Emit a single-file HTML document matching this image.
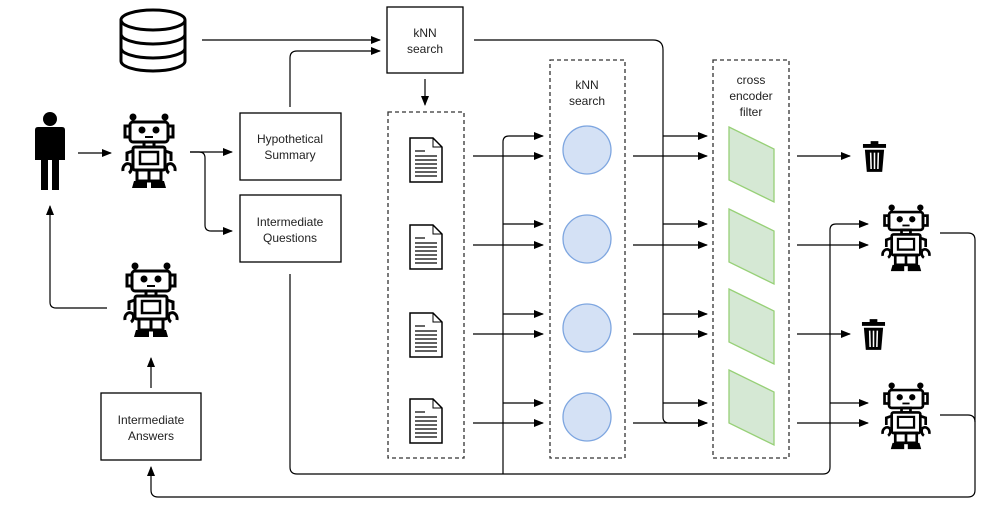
<!DOCTYPE html>
<html><head><meta charset="utf-8"><style>
html,body{margin:0;padding:0;background:#fff;}
svg{display:block;}
text{font-family:"Liberation Sans",sans-serif;font-size:12px;fill:#222;text-anchor:middle;}
</style></head><body>
<svg width="996" height="513" viewBox="0 0 996 513" xmlns="http://www.w3.org/2000/svg">
<defs>
<marker id="a" markerWidth="10" markerHeight="8" refX="9" refY="4" orient="auto" markerUnits="userSpaceOnUse">
<path d="M0,0 L10,4 L0,8 z" fill="#000"/></marker>
<symbol id="robot" viewBox="0 0 60 76">
<g stroke="#000" fill="none" stroke-width="3">
<line x1="14" y1="4" x2="14" y2="9"/><line x1="46" y1="4" x2="46" y2="9"/>
<rect x="11" y="9" width="38" height="20" rx="3" fill="#fff"/>
<rect x="6" y="13" width="5" height="11"/><rect x="49" y="13" width="5" height="11"/>
<line x1="26" y1="24" x2="34" y2="24" stroke-width="2"/>
<rect x="25" y="29" width="10" height="5"/>
<rect x="14" y="34" width="32" height="23" rx="2" fill="#fff"/>
<rect x="21" y="39" width="18" height="12" stroke-width="2.5"/>
<path d="M14,38 L8,40 L8,48"/><path d="M46,38 L52,40 L52,48"/>
<path d="M4,58 A5,6 0 0 1 12,52 M12,52 A5,6 0 0 1 10,60" stroke-width="3"/>
<path d="M56,58 A5,6 0 0 0 48,52 M48,52 A5,6 0 0 0 50,60" stroke-width="3"/>
<rect x="18" y="57" width="24" height="11"/><line x1="30" y1="57" x2="30" y2="68"/>
</g>
<circle cx="14" cy="4" r="3.5"/><circle cx="46" cy="4" r="3.5"/>
<circle cx="23" cy="17" r="3.5"/><circle cx="37" cy="17" r="3.5"/>
<path d="M15,68 h13 v7 h-15 z M32,68 h13 l2,7 h-15 z"/>
</symbol>
<symbol id="doc" viewBox="0 0 34 46">
<path d="M1,1 H24 L33,10 V45 H1 Z" fill="#fff" stroke="#000" stroke-width="1.5"/>
<path d="M24,1 V10 H33" fill="none" stroke="#000" stroke-width="1"/>
<g stroke="#000" stroke-width="1.2"><line x1="6" y1="14" x2="16" y2="14"/>
<line x1="6" y1="19" x2="28" y2="19"/><line x1="6" y1="23" x2="28" y2="23"/>
<line x1="6" y1="27" x2="28" y2="27"/><line x1="6" y1="31" x2="28" y2="31"/>
<line x1="6" y1="35" x2="28" y2="35"/><line x1="6" y1="39" x2="28" y2="39"/></g>
</symbol>
<symbol id="trash" viewBox="0 0 26 34">
<path d="M9,1 h8 v3 h8 v4 H1 v-4 h8 z"/>
<path d="M3,10 H23 L21,33 H5 Z"/>
<g stroke="#fff" stroke-width="1.6"><line x1="9" y1="13" x2="9.5" y2="30"/><line x1="13" y1="13" x2="13" y2="30"/><line x1="17" y1="13" x2="16.5" y2="30"/></g>
</symbol>
</defs>

<!-- database -->
<g fill="#fff" stroke="#000" stroke-width="3">
<path d="M121,20 V61 A32,10 0 0 0 185,61 V20"/>
<ellipse cx="153" cy="20" rx="32" ry="10"/>
<path d="M121,34 A32,10 0 0 0 185,34"/>
<path d="M121,48 A32,10 0 0 0 185,48"/>
</g>

<!-- person -->
<g fill="#000">
<circle cx="50" cy="119" r="7"/>
<path d="M35,130 Q35,127 38,127 H62 Q65,127 65,130 V160 H59 V190 H52 V160 H48 V190 H41 V160 H35 Z"/>
</g>

<use href="#robot" x="118" y="113" width="62" height="76"/>
<use href="#robot" x="120" y="262" width="62" height="76"/>
<use href="#robot" x="877" y="204" width="58" height="68"/>
<use href="#robot" x="877" y="382" width="58" height="68"/>
<use href="#trash" x="862" y="140" width="25" height="33"/>
<use href="#trash" x="861" y="318" width="25" height="33"/>

<!-- boxes -->
<g fill="#fff" stroke="#000" stroke-width="1.3">
<rect x="387" y="7" width="76" height="66"/>
<rect x="240" y="113" width="101" height="67"/>
<rect x="240" y="195" width="101" height="67"/>
<rect x="101" y="393" width="100" height="67"/>
</g>
<g fill="none" stroke="#333" stroke-width="1.3" stroke-dasharray="4,3">
<rect x="388" y="112" width="76" height="346"/>
<rect x="550" y="60" width="75" height="398"/>
<rect x="713" y="60" width="76" height="398"/>
</g>
<text x="425" y="37">kNN</text><text x="425" y="53">search</text>
<text x="290" y="143">Hypothetical</text><text x="290" y="159">Summary</text>
<text x="290" y="226">Intermediate</text><text x="290" y="242">Questions</text>
<text x="151" y="424">Intermediate</text><text x="151" y="440">Answers</text>
<text x="587" y="89">kNN</text><text x="587" y="105">search</text>
<text x="751" y="84">cross</text><text x="751" y="100">encoder</text><text x="751" y="116">filter</text>

<use href="#doc" x="409" y="137" width="34" height="46"/>
<use href="#doc" x="409" y="224" width="34" height="46"/>
<use href="#doc" x="409" y="312" width="34" height="46"/>
<use href="#doc" x="409" y="398" width="34" height="46"/>

<g fill="#d4e1f5" stroke="#7ea6e0" stroke-width="1.3">
<circle cx="587" cy="150" r="24"/><circle cx="587" cy="239" r="24"/>
<circle cx="587" cy="328" r="24"/><circle cx="587" cy="417" r="24"/>
</g>
<g fill="#d5e8d4" stroke="#97d077" stroke-width="1.3">
<path d="M729,127 L774,149 V202 L729,180 Z"/>
<path d="M729,209 L774,231 V284 L729,262 Z"/>
<path d="M729,289 L774,311 V364 L729,342 Z"/>
<path d="M729,370 L774,392 V445 L729,423 Z"/>
</g>

<!-- connectors -->
<g fill="none" stroke="#000" stroke-width="1.2" marker-end="url(#a)">
<path d="M202,40 H380"/>
<path d="M290,107 V58 Q290,51 297,51 H380"/>
<path d="M425,79 V105"/>
<path d="M78,153 H111"/>
<path d="M190,152 H232"/>
<path d="M190,152 H199 Q205,152 205,158 V225 Q205,231 211,231 H232"/>
<path d="M107,308 H56 Q50,308 50,302 V206"/>
<path d="M151,388 V358"/>
<path d="M474,40 H653 Q663,40 663,50 V417 Q663,423 669,423 H707"/>
<path d="M663,136 H707"/><path d="M663,224 H707"/><path d="M663,314 H707"/><path d="M663,403 H707"/>
<path d="M633,156 H707"/><path d="M633,245 H707"/><path d="M633,334 H707"/><path d="M633,423 H707"/>
<path d="M473,156 H543"/><path d="M473,245 H543"/><path d="M473,334 H543"/><path d="M473,423 H543"/>
<path d="M290,274 V467 Q290,474 297,474 H823 Q830,474 830,467 V230 Q830,224 836,224 H868"/>
<path d="M503,474 V142 Q503,136 509,136 H543"/>
<path d="M503,224 H543"/><path d="M503,314 H543"/><path d="M503,403 H543"/>
<path d="M797,156 H850"/><path d="M797,245 H868"/><path d="M797,334 H850"/>
<path d="M797,423 H868"/><path d="M830,403 H868"/>
<path d="M940,233 H968 Q975,233 975,240 V490 Q975,497 968,497 H158 Q151,497 151,490 V467"/>
</g>
<path d="M940,415 H968 Q975,415 975,422" fill="none" stroke="#000" stroke-width="1.2"/>
</svg>
</body></html>
